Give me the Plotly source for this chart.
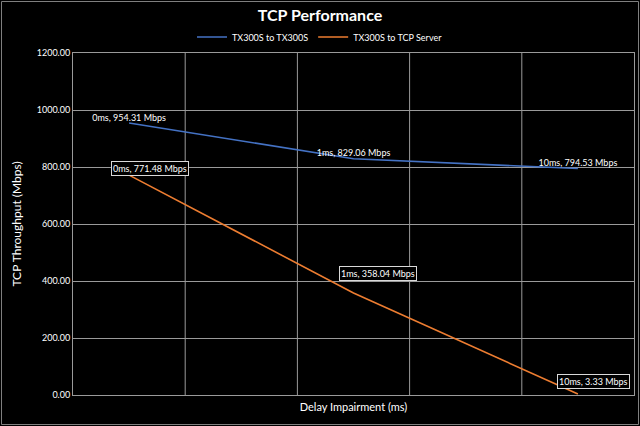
import plotly.graph_objects as go

# ---- data ----
delays = ["0ms", "1ms", "10ms"]
tx300s_to_tx300s = [954.31, 829.06, 794.53]
tx300s_to_tcp_server = [771.48, 358.04, 3.33]
series_names = ["TX300S to TX300S", "TX300S to TCP Server"]
y_ticks = [0, 200, 400, 600, 800, 1000, 1200]

BLUE = "#4472C4"
ORANGE = "#ED7D31"
GRID = "#9a9a9a"
FONT = "Lato, 'Open Sans', sans-serif"

W, H = 640, 426
L, R, T, B = 73, 6, 53, 31
pw, ph = W - L - R, H - T - B

fig = go.Figure()

fig.add_trace(go.Scatter(
    x=delays, y=tx300s_to_tx300s, name=series_names[0],
    mode="lines+text",
    line=dict(color=BLUE, width=1.6),
    text=[f"{d}, {v:.2f} Mbps" for d, v in zip(delays, tx300s_to_tx300s)],
    textposition="top center",
    textfont=dict(color="white", size=9, family=FONT),
))

fig.add_trace(go.Scatter(
    x=delays, y=tx300s_to_tcp_server, name=series_names[1],
    mode="lines",
    line=dict(color=ORANGE, width=1.6),
))

# boxed labels for orange series
shifts = [(21, 7), (24, 19), (16, 13)]
for d, v, (xs, ys) in zip(delays, tx300s_to_tcp_server, shifts):
    fig.add_annotation(
        x=d, y=v, text=f"{d}, {v:.2f} Mbps", showarrow=False,
        xshift=xs, yshift=ys,
        font=dict(color="white", size=9, family=FONT),
        bordercolor="#d9d9d9", borderwidth=1, borderpad=1, bgcolor="black",
    )

# interior vertical gridlines (5 equal divisions)
for k in range(1, 5):
    fig.add_shape(type="line", xref="x domain", yref="y domain",
                  x0=k / 5, x1=k / 5, y0=0, y1=1,
                  line=dict(color=GRID, width=1), layer="below")

# outer chart border
fig.add_shape(type="rect", xref="paper", yref="paper",
              x0=(1.5 - L) / pw, x1=(638.5 - L) / pw,
              y0=(H - B - 424.5) / ph, y1=(H - B - 1.5) / ph,
              line=dict(color="#7f7f7f", width=1))

fig.update_layout(
    width=W, height=H, autosize=False,
    paper_bgcolor="black", plot_bgcolor="black",
    margin=dict(l=L, r=R, t=T, b=B, autoexpand=False),
    font=dict(family=FONT, color="white", size=9),
    title=dict(text="<b>TCP Performance</b>", x=0.5, xref="container",
               y=1 - 15 / H, yref="container", yanchor="middle",
               font=dict(size=16, color="white", family=FONT)),
    legend=dict(orientation="h", xref="container", x=0.5, xanchor="center",
                yref="container", y=1 - 37 / H, yanchor="middle",
                font=dict(size=9, color="white", family=FONT),
                bgcolor="rgba(0,0,0,0)", itemwidth=30, tracegroupgap=0),
    showlegend=True,
    xaxis=dict(type="category", categoryorder="array", categoryarray=delays,
               range=[-0.25, 2.25], showgrid=False, showticklabels=False,
               ticks="", zeroline=False, showline=True, mirror=True,
               linecolor=GRID, linewidth=1, automargin=False,
               title=dict(text="Delay Impairment (ms)", standoff=8,
                          font=dict(size=11, color="white", family=FONT))),
    yaxis=dict(range=[0, 1200], tickvals=y_ticks, tickformat=".2f",
               showgrid=True, gridcolor=GRID, gridwidth=1,
               zeroline=False, showline=True, mirror=True,
               linecolor=GRID, linewidth=1, ticks="", automargin=False,
               tickfont=dict(size=9, color="white", family=FONT),
               title=dict(text="TCP Throughput (Mbps)", standoff=12,
                          font=dict(size=12, color="white", family=FONT))),
)

fig.write_html("out.html",
               config={"displayModeBar": False},
               post_script="document.body.style.margin='0';")
